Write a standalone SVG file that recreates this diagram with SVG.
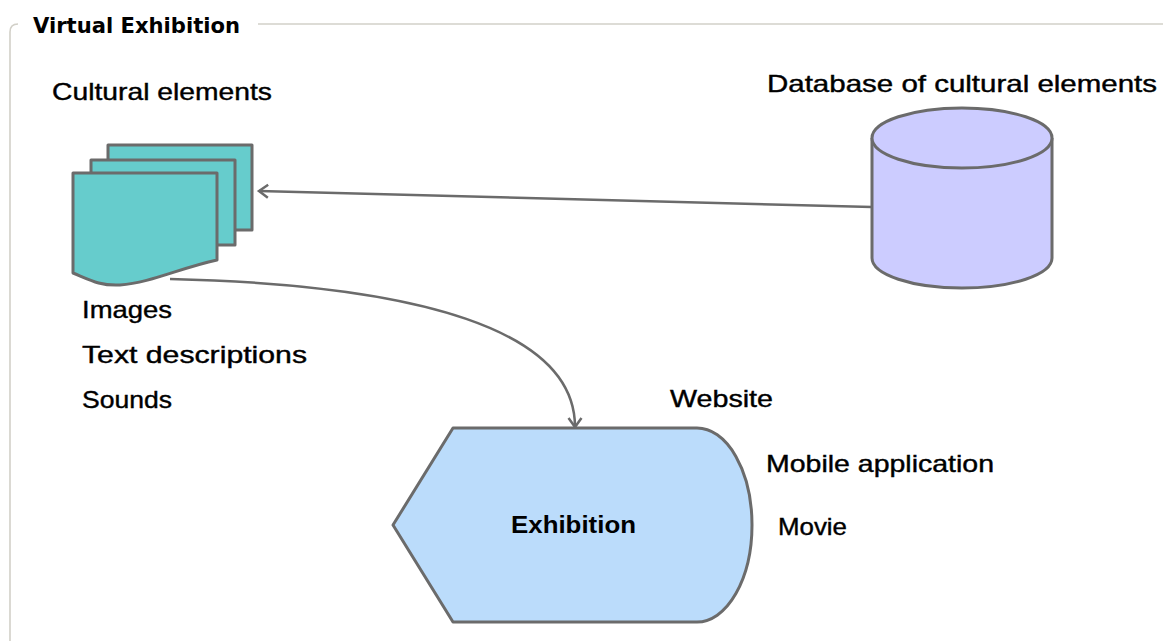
<svg xmlns="http://www.w3.org/2000/svg" width="1163" height="641" viewBox="0 0 1163 641">
<style>
  .frame{fill:none;stroke:#d2d0c8;stroke-width:1.6}
  .shape{stroke:#6b6b6b;stroke-width:3;stroke-linejoin:round}
  .doc{fill:#66cccc}
  .conn{fill:none;stroke:#6b6b6b;stroke-width:2.5}
  .hand{font-family:"Liberation Sans","DejaVu Sans",sans-serif;font-size:24px;fill:#000;stroke:#000;stroke-width:0.4}
  .title{font-family:"DejaVu Sans","Liberation Sans",sans-serif;font-weight:bold;font-size:22px;fill:#000}
  .label{font-family:"Liberation Sans",Arial,sans-serif;font-weight:bold;font-size:24px;fill:#000}
</style>
<defs>
  <marker id="open" markerWidth="20" markerHeight="20" refX="12" refY="8" orient="auto" markerUnits="userSpaceOnUse">
    <path d="M3,1.5 L12,8 L3,14.5" fill="none" stroke="#6b6b6b" stroke-width="2.5"/>
  </marker>
</defs>
<rect width="1163" height="641" fill="#fff"/>
<g id="frame">
  <path class="frame" d="M10,641 V32 Q10,24 18,24"/>
  <path class="frame" d="M258,24 H1163"/>
  <text class="title" x="33" y="33" textLength="207" lengthAdjust="spacingAndGlyphs">Virtual Exhibition</text>
</g>
<g id="connectors">
  <path class="conn" d="M872,207 L259,191" marker-end="url(#open)"/>
  <path class="conn" d="M170,279 C420,285 575,330 575,427" marker-end="url(#open)"/>
</g>
<g id="cultural-elements">
  <rect class="shape doc" x="108" y="145" width="144" height="85"/>
  <rect class="shape doc" x="91" y="160" width="144" height="85"/>
  <path class="shape doc" d="M73,173 H217 V260 C180,268 150,283 120,285 C100,286 90,280 73,273 Z"/>
  <text class="hand" x="52" y="100" textLength="220" lengthAdjust="spacingAndGlyphs">Cultural elements</text>
  <text class="hand" x="82" y="318" textLength="90" lengthAdjust="spacingAndGlyphs">Images</text>
  <text class="hand" x="82" y="363" textLength="225" lengthAdjust="spacingAndGlyphs">Text descriptions</text>
  <text class="hand" x="82" y="408" textLength="90" lengthAdjust="spacingAndGlyphs">Sounds</text>
</g>
<g id="database">
  <path class="shape" fill="#ccccff" d="M872,138 V258 A90,30 0 0 0 1052,258 V138"/>
  <ellipse class="shape" fill="#ccccff" cx="962" cy="138" rx="90" ry="30"/>
  <text class="hand" x="767" y="92" textLength="390" lengthAdjust="spacingAndGlyphs">Database of cultural elements</text>
</g>
<g id="exhibition">
  <path class="shape" fill="#bbdcfb" d="M453,428 H697 A55,97 0 0 1 697,622 H453 L393,525 Z"/>
  <text class="label" x="511" y="533" textLength="125" lengthAdjust="spacingAndGlyphs">Exhibition</text>
  <text class="hand" x="670" y="407" textLength="103" lengthAdjust="spacingAndGlyphs">Website</text>
  <text class="hand" x="766" y="472" textLength="228" lengthAdjust="spacingAndGlyphs">Mobile application</text>
  <text class="hand" x="778" y="535" textLength="69" lengthAdjust="spacingAndGlyphs">Movie</text>
</g>
</svg>
